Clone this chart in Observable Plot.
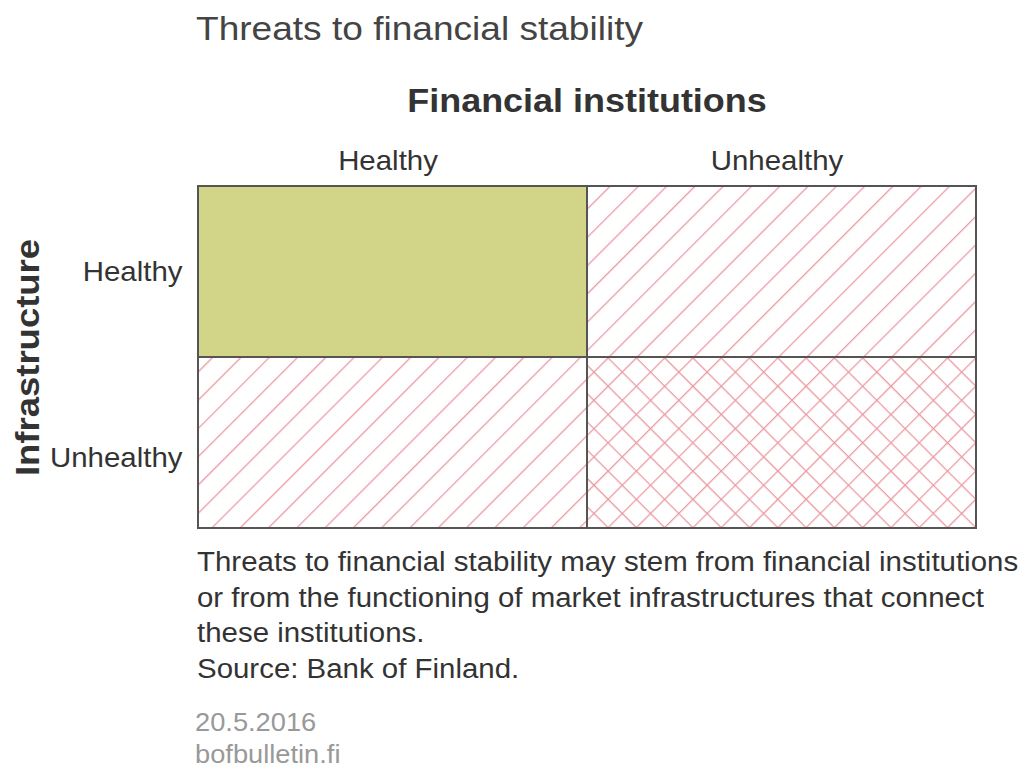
<!DOCTYPE html>
<html>
<head>
<meta charset="utf-8">
<script src="https://cdn.jsdelivr.net/npm/d3@7"></script>
<script src="https://cdn.jsdelivr.net/npm/@observablehq/plot@0.6"></script>
<style>
  html, body { margin: 0; padding: 0; background: #fff; font-family: "Liberation Sans", Arial, sans-serif; overflow: hidden; }
  .stretch { transform: scaleX(1.09); transform-origin: 0 0; }
  #title { height: 60px; line-height: 56px; margin-left: 196px; font-size: 34px; color: #444; white-space: nowrap; }
  #chart svg { display: block; }
  #caption { margin-top: 7px; margin-left: 197px; font-size: 27px; line-height: 35.5px; color: #333; white-space: nowrap; }
  #footer { margin-top: 19px; margin-left: 195px; font-size: 25px; line-height: 32px; color: #999; white-space: nowrap; }
</style>
</head>
<body>
<div id="title" class="stretch"></div>
<div id="chart"></div>
<div id="caption" class="stretch"></div>
<div id="footer" class="stretch"></div>
<script>
const titleText = "Threats to financial stability";
const columnTitle = "Financial institutions";
const rowTitle = "Infrastructure";
const financialStates = ["Healthy", "Unhealthy"];
const infrastructureStates = ["Healthy", "Unhealthy"];
// threat level per cell: rows = infrastructure, columns = financial institutions
const threatLevels = [
  [0, 1],
  [1, 2]
];
const captionLines = [
  "Threats to financial stability may stem from financial institutions",
  "or from the functioning of market infrastructures that connect",
  "these institutions.",
  "Source: Bank of Finland."
];
const footerLines = ["20.5.2016", "bofbulletin.fi"];

const cells = [];
infrastructureStates.forEach((infra, i) => {
  financialStates.forEach((fin, j) => {
    cells.push({fin, infra, level: threatLevels[i][j]});
  });
});

document.getElementById("title").textContent = titleText;
document.getElementById("caption").innerHTML = captionLines.join("<br>");
document.getElementById("footer").innerHTML = footerLines.join("<br>");

const font = "'Liberation Sans', Arial, sans-serif";
const chart = Plot.plot({
  width: 1022,
  height: 478,
  marginLeft: 197,
  marginRight: 46,
  marginTop: 126,
  marginBottom: 10,
  style: {fontFamily: font, color: "#333", background: "#fff", overflow: "visible"},
  x: {type: "band", domain: financialStates, padding: 0},
  y: {type: "band", domain: infrastructureStates, padding: 0},
  marks: [
    Plot.cell(cells.filter(d => d.level === 0), {x: "fin", y: "infra", fill: "#d2d488", inset: 0}),
    Plot.cell(cells.filter(d => d.level === 1), {x: "fin", y: "infra", fill: "url(#hatch)", inset: 0}),
    Plot.cell(cells.filter(d => d.level === 2), {x: "fin", y: "infra", fill: "url(#crosshatch)", inset: 0}),
    Plot.cell(cells, {x: "fin", y: "infra", fill: "none", stroke: "#555", strokeWidth: 2, inset: 0}),
    Plot.axisX({anchor: "top", tickSize: 0, tickPadding: 17, dx: -5, fontSize: 27, label: null, fill: "#333"}),
    Plot.axisY({anchor: "left", ticks: [infrastructureStates[0]], tickSize: 0, tickPadding: 15, fontSize: 27, label: null, fill: "#333"}),
    Plot.axisY({anchor: "left", ticks: [infrastructureStates[1]], tickSize: 0, tickPadding: 15, dy: 15, fontSize: 27, label: null, fill: "#333"}),
    Plot.text([columnTitle], {frameAnchor: "top", dy: -98, fontSize: 33, fontWeight: "bold", fill: "#333"}),
    Plot.text([rowTitle], {frameAnchor: "left", textAnchor: "middle", dx: -169, rotate: -90, fontSize: 33.5, fontWeight: "bold", fill: "#333"})
  ]
});

// horizontal stretch of the reference lettering
chart.querySelectorAll("text").forEach(t => {
  const tr = t.getAttribute("transform") || "";
  t.setAttribute("transform", tr + " scale(1.09,1)");
});

const ns = "http://www.w3.org/2000/svg";
const defs = document.createElementNS(ns, "defs");
const sp = 20;
defs.innerHTML = `
  <pattern id="hatch" patternUnits="userSpaceOnUse" width="${sp}" height="${sp}" patternTransform="rotate(45)">
    <rect width="${sp}" height="${sp}" fill="#fff"/>
    <line x1="0" y1="0" x2="0" y2="${sp}" stroke="#eb9aa3" stroke-width="2.6"/>
  </pattern>
  <pattern id="crosshatch" patternUnits="userSpaceOnUse" width="${sp}" height="${sp}" patternTransform="rotate(45)">
    <rect width="${sp}" height="${sp}" fill="#fff"/>
    <line x1="0" y1="0" x2="0" y2="${sp}" stroke="#eb9aa3" stroke-width="2.6"/>
    <line x1="0" y1="0" x2="${sp}" y2="0" stroke="#eb9aa3" stroke-width="2.6"/>
  </pattern>`;
chart.insertBefore(defs, chart.firstChild);
document.getElementById("chart").appendChild(chart);
</script>
</body>
</html>
